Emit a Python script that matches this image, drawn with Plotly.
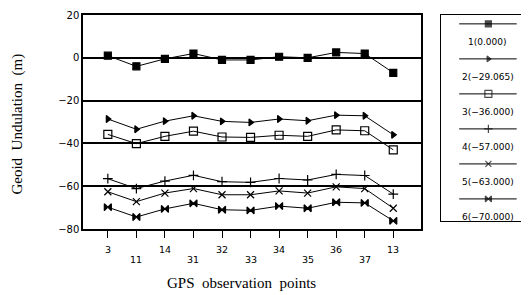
import plotly.graph_objects as go

points = ["3", "11", "14", "31", "32", "33", "34", "35", "36", "37", "13"]
names = ["1(0.000)", "2(\u221229.065)", "3(\u221236.000)", "4(\u221257.000)", "5(\u221263.000)", "6(\u221270.000)"]
s1 = [1.0, -4.0, -0.5, 2.0, -1.0, -1.0, 0.5, 0.0, 2.5, 2.0, -7.0]
s2 = [-28.6, -33.4, -29.6, -27.1, -29.7, -30.2, -28.6, -29.4, -26.8, -27.1, -36.0]
s3 = [-35.8, -40.1, -36.7, -34.3, -37.0, -37.2, -36.2, -36.7, -33.7, -34.1, -43.0]
s4 = [-56.5, -61.1, -57.6, -54.9, -57.9, -58.2, -56.4, -57.1, -54.5, -55.0, -63.7]
s5 = [-62.6, -67.2, -63.2, -61.1, -64.0, -64.0, -62.2, -63.2, -60.3, -61.1, -70.3]
s6 = [-69.8, -74.4, -70.6, -68.0, -71.0, -71.3, -69.3, -70.3, -67.5, -67.8, -76.2]
series = [s1, s2, s3, s4, s5, s6]
symbols = ["square", "triangle-right", "square-open", "cross-thin-open", "x-thin-open", "bowtie"]
sizes = [7, 6, 8, 7, 7, 7]

# page body has an 8px margin; work in screen pixels and subtract it
OFF = 8
W, H = 529 - OFF, 295 - OFF
L, R, T, B = 83, 422, 12, 229        # plot area in screen px
LEG_L, LEG_R, LEG_B = 442, 528, 221  # legend box in screen px
ml, mt = L - OFF, T - OFF
mr = W - (LEG_R - OFF)
mb = H - (B - OFF)
pw = W - ml - mr
ph = H - mt - mb

def px(xs):
    return (xs - L) / pw

def py(ys):
    return (B - ys) / ph

fig = go.Figure()
idx = list(range(len(points)))
for k, ys in enumerate(series):
    fig.add_trace(go.Scatter(
        x=idx, y=ys, mode="lines+markers", name=names[k],
        line=dict(color="black", width=1),
        marker=dict(symbol=symbols[k], size=sizes[k], color="black",
                    line=dict(color="black", width=1.2)),
        xaxis="x", yaxis="y", showlegend=False))

# custom legend (sample line above label)
for k in range(len(names)):
    fig.add_trace(go.Scatter(
        x=[0.21, 0.55, 0.88], y=[k, k, k], mode="lines+markers",
        line=dict(color="black", width=1),
        marker=dict(symbol=symbols[k], size=[0, sizes[k] - 1, 0], color="black",
                    line=dict(color="black", width=1.2)),
        xaxis="x2", yaxis="y2", showlegend=False, hoverinfo="skip"))

annotations = []
for k, n in enumerate(names):
    annotations.append(dict(x=0.54, y=k + 0.52, xref="x2", yref="y2", text=n,
                            showarrow=False, font=dict(size=9, family="DejaVu Sans", color="black")))
for i, p in enumerate(points):
    yp = py(250) if i % 2 == 0 else py(260)
    annotations.append(dict(x=i, y=yp, xref="x", yref="paper", text=p, showarrow=False,
                            yanchor="middle", font=dict(size=9.5, family="DejaVu Sans", color="black")))
annotations.append(dict(x=px(242), y=py(284), xref="paper", yref="paper",
                        text="GPS&nbsp;&nbsp;observation&nbsp;&nbsp;points", showarrow=False,
                        yanchor="middle", font=dict(size=15, family="Liberation Serif", color="black")))
annotations.append(dict(x=px(17), y=py(123), xref="paper", yref="paper",
                        text="Geoid&nbsp;&nbsp;Undulation&nbsp;&nbsp;(m)", showarrow=False, textangle=-90,
                        xanchor="center", yanchor="middle",
                        font=dict(size=15, family="Liberation Serif", color="black")))

fig.update_layout(
    width=W, height=H,
    margin=dict(l=ml, r=mr, t=mt, b=mb),
    paper_bgcolor="white", plot_bgcolor="white",
    annotations=annotations,
    xaxis=dict(domain=[0, px(R)], range=[-0.87, 10.98], tickvals=idx, showticklabels=False,
               ticks="outside", ticklen=7, tickcolor="black", tickwidth=1,
               showgrid=False, zeroline=False, showline=True, linecolor="black", linewidth=1.5, mirror=True),
    yaxis=dict(range=[-80, 20], tickvals=[20, 0, -20, -40, -60, -80],
               ticktext=["20", "0", "\u221220", "\u221240", "\u221260", "\u221280"],
               ticklabeloverflow="allow",
               showgrid=True, gridcolor="black", gridwidth=1.5, zeroline=False,
               showline=True, linecolor="black", linewidth=1.5, mirror=True,
               ticks="", tickfont=dict(size=10, family="DejaVu Sans", color="black")),
    xaxis2=dict(domain=[px(LEG_L), 1.0], range=[0, 1], anchor="y2", visible=True,
                showticklabels=False, ticks="", showgrid=False, zeroline=False,
                showline=True, linecolor="black", linewidth=1.2, mirror=True),
    yaxis2=dict(domain=[py(LEG_B), 1.0], range=[5.634, -0.2535], anchor="x2",
                showticklabels=False, ticks="", showgrid=False, zeroline=False,
                showline=True, linecolor="black", linewidth=1.2, mirror=True),
)
fig.write_html("out.html")
